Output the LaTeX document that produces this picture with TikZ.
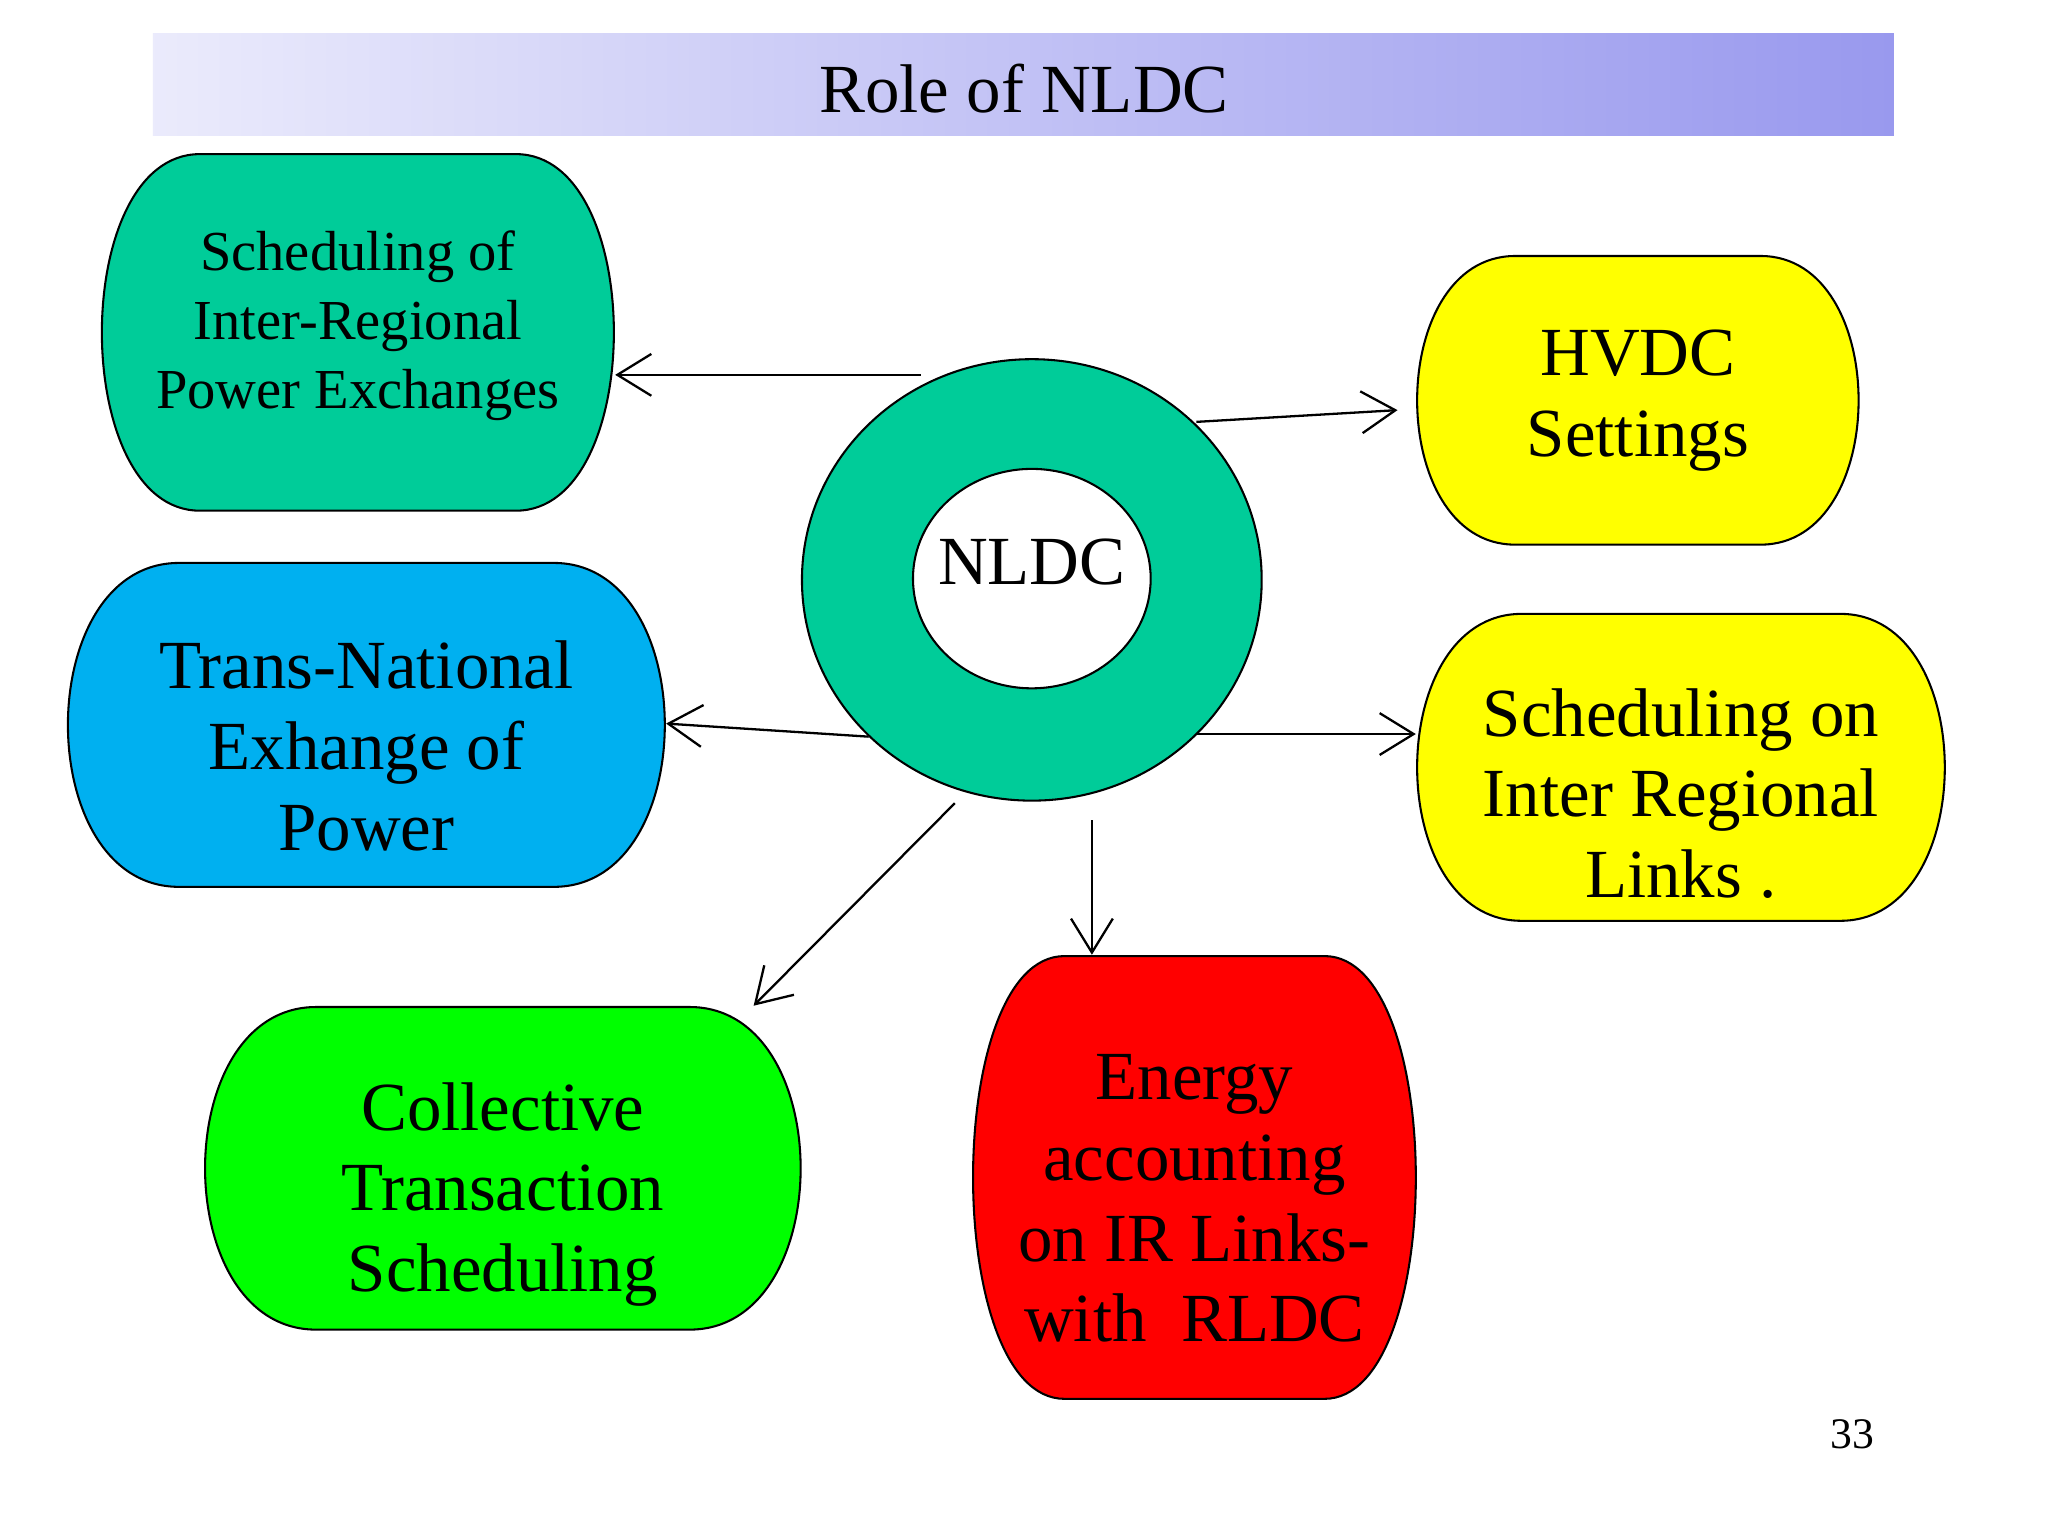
\documentclass[tikz,border=0pt]{standalone}
\usepackage{fontspec}
\setmainfont{Liberation Serif}
\usetikzlibrary{arrows.meta}
\definecolor{teal1}{HTML}{00CC99}
\definecolor{blue1}{HTML}{00B0F0}
\definecolor{yel}{HTML}{FFFF00}
\definecolor{grn}{HTML}{00FF00}
\definecolor{red1}{HTML}{FF0000}
\definecolor{lav}{HTML}{9999EE}
\tikzset{big/.style={font=\fontsize{15}{17.6}\selectfont}}
\newcommand{\capsule}[9]{% name x1 y1 x2 y2 r color nodeopts text
  \fill[#7,draw=black,line width=0.45pt] ({#2+#6},#3) -- ({#4-#6},#3)
    .. controls ({#4+#6/3},#3) and ({#4+#6/3},#5) .. ({#4-#6},#5)
    -- ({#2+#6},#5)
    .. controls ({#2-#6/3},#5) and ({#2-#6/3},#3) .. ({#2+#6},#3) -- cycle;
  \node[txt,#8] (#1) at ({(#2+#4)/2},{(#3+#5)/2}) {#9};
}
\begin{document}
\begin{tikzpicture}[x=0.01cm,y=-0.01cm,
  txt/.style={align=center,inner sep=0pt},
  arr/.style={line width=0.5pt,-{Straight Barb[length=2.6mm,width=3.2mm]}}]
\useasboundingbox (0,0) rectangle (1568,1176);
\fill[white] (0,0) rectangle (1568,1176);
\shade[left color=lav!20,right color=lav] (117,26) rectangle (1450,104);
\node[txt,font=\fontsize{15}{20}\selectfont] (title) at (784,68) {Role of NLDC};
\capsule{b1}{78}{118}{470}{391}{75}{teal1}{font=\fontsize{12.3}{15}\selectfont,yshift=0.05cm}{Scheduling of\\Inter-Regional\\Power Exchanges}
\capsule{b2}{1085}{196}{1423}{417}{75}{yel}{big}{HVDC\\Settings}
\capsule{b3}{52}{431}{509}{679}{85}{blue1}{big,yshift=-0.16cm}{Trans-National\\Exhange of\\Power}
\capsule{b4}{1085}{470}{1489}{705}{80}{yel}{big,yshift=-0.2cm}{Scheduling on\\Inter Regional\\Links .}
\capsule{b5}{157}{771}{613}{1018}{85}{grn}{big,yshift=-0.2cm}{Collective\\Transaction\\Scheduling}
\capsule{b6}{745}{732}{1084}{1071}{70}{red1}{big,yshift=-0.16cm}{Energy\\accounting\\on IR Links-\\with~ RLDC}
\fill[teal1,draw=black,line width=0.45pt] (790,444) ellipse [x radius=176,y radius=169];
\fill[white,draw=black,line width=0.45pt] (790,443) ellipse [x radius=91,y radius=84];
\node[txt,font=\fontsize{15}{20}\selectfont] (nldc) at (790,430) {NLDC};
\node[txt,font=\fontsize{9.5}{12}\selectfont] (pg) at (1418,1098) {33};
\coordinate (s1) at (705,287); \coordinate (e1) at (471,287);
\coordinate (s2) at (916,323); \coordinate (e2) at (1070,314);
\coordinate (s3) at (665,564); \coordinate (e3) at (510,554);
\coordinate (s4) at (916,562); \coordinate (e4) at (1084,562);
\coordinate (s5) at (731,615); \coordinate (e5) at (577,770);
\coordinate (s6) at (836,628); \coordinate (e6) at (836,731);
\foreach \i in {1,...,6} \draw[arr] (s\i) -- (e\i);
\end{tikzpicture}
\end{document}
